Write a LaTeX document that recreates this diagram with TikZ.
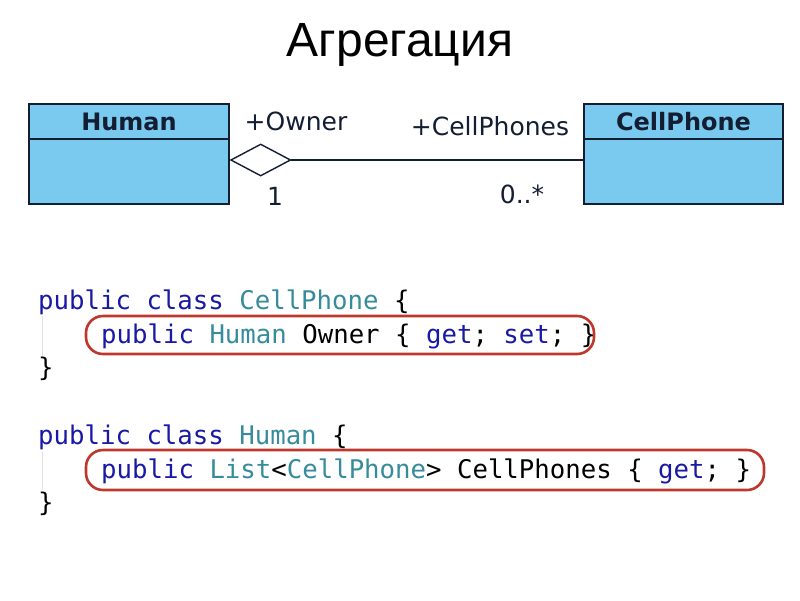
\documentclass[tikz,border=0pt]{standalone}
\usepackage{fontspec}
\setmainfont{DejaVu Sans}
\setmonofont{DejaVu Sans Mono}
\newfontfamily\titlefont{Liberation Sans}
\usetikzlibrary{shapes.geometric}
\definecolor{umlfill}{RGB}{122,202,240}
\definecolor{umlline}{RGB}{20,30,50}
\definecolor{kw}{RGB}{25,25,165}
\definecolor{ty}{RGB}{55,140,155}
\definecolor{hl}{RGB}{190,55,45}
\tikzset{
  classbox/.style={draw=umlline,line width=1.6pt,fill=umlfill},
  classname/.style={font=\fontsize{24}{28}\selectfont\bfseries,text=umlline},
  rolelabel/.style={font=\fontsize{25}{29}\selectfont,text=umlline},
  codeline/.style={font=\fontsize{25.7}{30}\selectfont\ttfamily,anchor=base west,inner sep=0pt},
  hlbox/.style={draw=hl,line width=2.6pt,rounded corners=17pt},
}
\newcommand{\KW}[1]{\textcolor{kw}{#1}}
\newcommand{\TY}[1]{\textcolor{ty}{#1}}
\begin{document}
\begin{tikzpicture}[x=1pt,y=-1pt]
\useasboundingbox (0,0) rectangle (800,600);
\fill[white] (0,0) rectangle (800,600);
% title
\node[font=\titlefont\fontsize{48}{54}\selectfont] (title) at (400,45) {Агрегация};
% UML classes
\draw[classbox] (29,104) rectangle (229,204);
\draw[umlline,line width=1.6pt] (29,139) -- (229,139);
\node[classname] (human) at (129,122) {Human};
\draw[classbox] (584,104) rectangle (783,204);
\draw[umlline,line width=1.6pt] (584,139) -- (783,139);
\node[classname] (cell) at (683.5,122) {CellPhone};
\coordinate (hr) at (230,160);
\coordinate (cl) at (584,160);
\node[diamond,draw=umlline,line width=1.4pt,fill=white,minimum width=60pt,minimum height=32pt,inner sep=0pt,anchor=west] (dia) at (hr) {};
\draw[umlline,line width=1.4pt] (dia.east) -- (cl);
\node[rolelabel] (owner) at (296,121) {+Owner};
\node[rolelabel] (phones) at (490,126) {+CellPhones};
\node[rolelabel] (one) at (275,196) {1};
\node[rolelabel] (many) at (522,194) {0..*};
% code
\draw[black!12,line width=1pt] (42,316) -- (42,356);
\draw[black!12,line width=1pt] (42,452) -- (42,490);
\node[codeline] (c1) at (38,309) {\KW{public} \KW{class} \TY{CellPhone} \{};
\node[codeline] (c2) at (101,343) {\KW{public} \TY{Human} Owner \{ \KW{get}; \KW{set}; \}};
\node[codeline] (c3) at (38,376) {\}};
\node[codeline] (c4) at (38,444) {\KW{public} \KW{class} \TY{Human} \{};
\node[codeline] (c5) at (101,478) {\KW{public} \TY{List}<\TY{CellPhone}> CellPhones \{ \KW{get}; \}};
\node[codeline] (c6) at (38,511) {\}};
\draw[hlbox] (86,316) rectangle (594,354);
\draw[hlbox] (86,450) rectangle (764,490);
\end{tikzpicture}
\end{document}
